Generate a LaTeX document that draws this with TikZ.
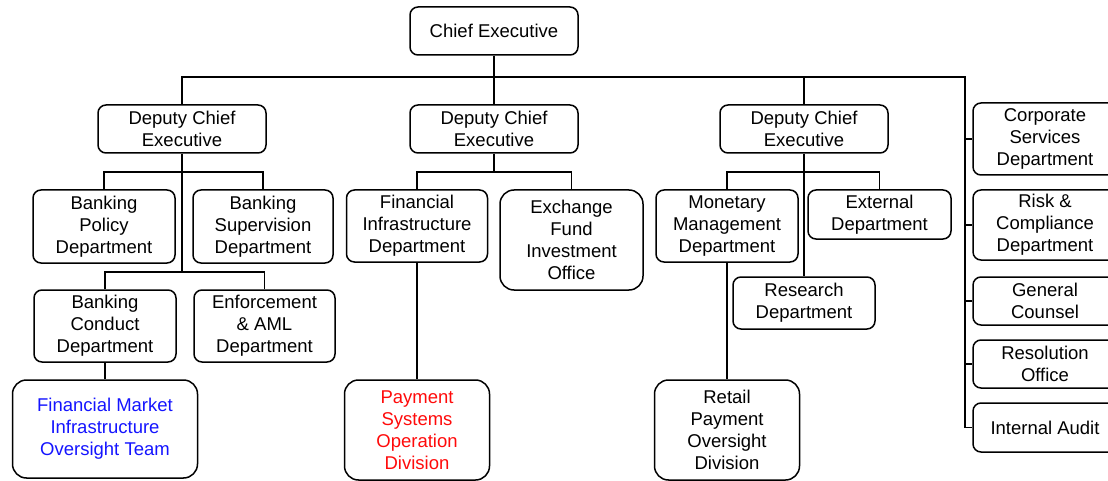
\documentclass[tikz,border=0pt]{standalone}
\usepackage{fontspec}
\setmainfont{Liberation Sans}
\begin{document}
\begin{tikzpicture}[x=1pt,y=-1pt,
  box/.style={draw, line width=1.5pt, rounded corners=8pt, align=center, inner sep=0pt,
    font=\fontsize{18.5}{22}\selectfont},
  bigbox/.style={box, rounded corners=14pt},
  conn/.style={line width=1.5pt}]
\useasboundingbox (0,0) rectangle (1108,481);
\clip (0,0) rectangle (1108,481);
% nodes
\node[box, minimum width=168pt, minimum height=48pt] (ce) at (494,31) {Chief Executive};
\node[box, minimum width=168pt, minimum height=48pt] (dce1) at (182,129) {Deputy Chief\\Executive};
\node[box, minimum width=168pt, minimum height=48pt] (dce2) at (494,129) {Deputy Chief\\Executive};
\node[box, minimum width=168pt, minimum height=48pt] (dce3) at (804,129) {Deputy Chief\\Executive};
\node[box, minimum width=142pt, minimum height=73pt] (bp) at (104,226.5) {Banking\\Policy\\Department};
\node[box, minimum width=140pt, minimum height=73pt] (bs) at (263,226.5) {Banking\\Supervision\\Department};
\node[box, minimum width=142pt, minimum height=72pt] (bc) at (105,326) {Banking\\Conduct\\Department};
\node[box, minimum width=141pt, minimum height=72pt] (enf) at (264.5,326) {Enforcement\\\& AML\\Department};
\node[bigbox, minimum width=185pt, minimum height=98pt, text={rgb,255:red,20;green,20;blue,255}] (fmi) at (105,429) {Financial Market\\Infrastructure\\Oversight Team};
\node[box, minimum width=141pt, minimum height=72pt] (fi) at (417,226) {Financial\\Infrastructure\\Department};
\node[bigbox, minimum width=143pt, minimum height=100pt] (ef) at (571.5,240) {Exchange\\Fund\\Investment\\Office};
\node[bigbox, minimum width=145pt, minimum height=100pt, text={rgb,255:red,255;green,10;blue,10}] (ps) at (417,430) {Payment\\Systems\\Operation\\Division};
\node[box, minimum width=142pt, minimum height=72pt] (mm) at (727,226) {Monetary\\Management\\Department};
\node[box, minimum width=143pt, minimum height=49pt] (ext) at (879.5,214.5) {External\\Department};
\node[box, minimum width=142pt, minimum height=52pt] (res) at (804,303) {Research\\Department};
\node[bigbox, minimum width=145pt, minimum height=100pt] (rp) at (727,430) {Retail\\Payment\\Oversight\\Division};
\node[box, minimum width=144pt, minimum height=72pt] (cs) at (1045,139) {Corporate\\Services\\Department};
\node[box, minimum width=144pt, minimum height=70pt] (rc) at (1045,225) {Risk \&\\Compliance\\Department};
\node[box, minimum width=144pt, minimum height=48pt] (gc) at (1045,301) {General\\Counsel};
\node[box, minimum width=144pt, minimum height=48pt] (ro) at (1045,364) {Resolution\\Office};
\node[box, minimum width=144pt, minimum height=49pt] (ia) at (1045,427.5) {Internal Audit};
% junction coordinates
\coordinate (b0) at (494,77);
\coordinate (rtop) at (965,77);
\coordinate (l1) at (182,172);
\coordinate (l2) at (182,272);
\coordinate (m1) at (494,172);
\coordinate (r1) at (804,172);
% connectors
\draw[conn] (ce.south) -- (dce2.north);
\draw[conn] (dce1.north) |- (b0) -- (rtop) -- (rtop |- ia.west) -- (ia.west);
\draw[conn] (b0) -| (dce3.north);
\draw[conn] (rtop |- cs.west) -- (cs.west);
\draw[conn] (rtop |- rc.west) -- (rc.west);
\draw[conn] (rtop |- gc.west) -- (gc.west);
\draw[conn] (rtop |- ro.west) -- (ro.west);
\draw[conn] (dce1.south) -- (l2);
\draw[conn] (bp.north) |- (l1) -| (bs.north);
\draw[conn] (bc.north) |- (l2) -| (enf.north);
\draw[conn] (bc.south) -- (fmi.north);
\draw[conn] (dce2.south) -- (m1);
\draw[conn] (fi.north) |- (m1) -| (ef.north);
\draw[conn] (fi.south) -- (ps.north);
\draw[conn] (dce3.south) -- (res.north);
\draw[conn] (mm.north) |- (r1) -| (ext.north);
\draw[conn] (mm.south) -- (rp.north);
\end{tikzpicture}
\end{document}
